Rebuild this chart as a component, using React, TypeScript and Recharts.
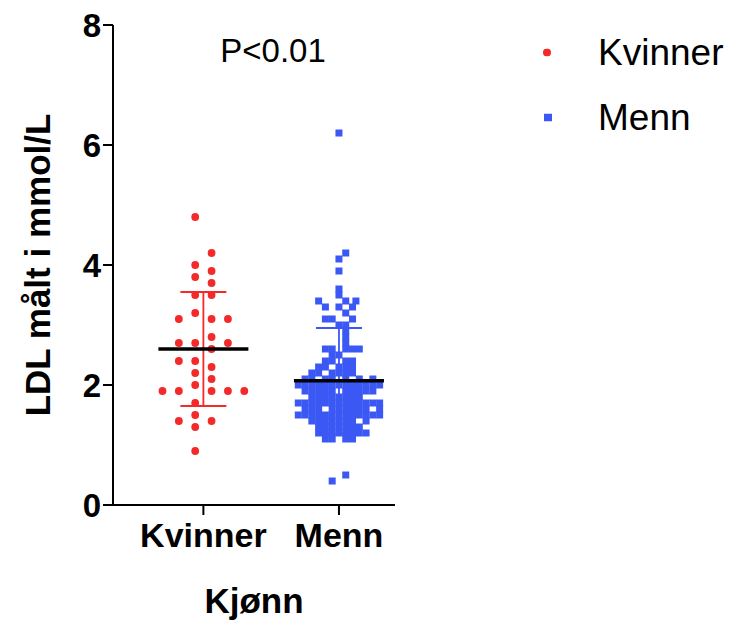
import { ScatterChart, Scatter, XAxis, YAxis, ErrorBar } from "recharts";

const FONT = '"Liberation Sans", Arial, Helvetica, sans-serif';
const RED = "#f42a2a";
const BLUE = "#3b58f5";

// categories on a numeric x axis so points can be spread sideways
const categories = ["Kvinner", "Menn"];
const categoryX = [1, 2.5];
const slotWidth = [0.181, 0.075];
const yTicks = [0, 2, 4, 6, 8];

// [value, column slots]
const kvinnerRows: [number, number[]][] = [
  [4.8, [-0.5]],
  [4.2, [0.5]],
  [4.0, [-0.5]],
  [3.9, [0.5]],
  [3.8, [-0.5]],
  [3.7, [0.5]],
  [3.5, [-0.5, 0.5]],
  [3.2, [-0.5]],
  [3.1, [-1.5, 0.5, 1.5]],
  [2.8, [0.5]],
  [2.7, [-1.5, -0.5, 1.5]],
  [2.6, [0.5]],
  [2.4, [-1.5, -0.5]],
  [2.3, [0.5]],
  [2.2, [-0.5]],
  [2.1, [0.5]],
  [2.0, [-0.5]],
  [1.9, [-2.5, -1.5, 0.5, 1.5, 2.5]],
  [1.7, [-0.5]],
  [1.5, [-0.5]],
  [1.4, [-1.5, 0.5]],
  [1.3, [-0.5]],
  [0.9, [-0.5]],
];

const mennRows: [number, number[]][] = [
  [6.2, [0]],
  [4.2, [1]],
  [4.1, [0]],
  [3.9, [0]],
  [3.6, [0]],
  [3.5, [0]],
  [3.4, [-3, 1, 2.5]],
  [3.3, [-2, 0, 2]],
  [3.2, [1]],
  [3.1, [-2, -1, 2]],
  [3.0, [0, 1]],
  [2.9, [1]],
  [2.8, [1]],
  [2.7, [1]],
  [2.6, [-2, -1, 1, 2, 3]],
  [2.5, [-1, 0]],
  [2.4, [-2, -1, 1, 2]],
  [2.3, [-3, -2, 0, 1, 2]],
  [2.2, [-4, -3, -1, 0, 1, 2]],
  [2.1, [-5, -4, -2, -1, 1, 3, 5]],
  [2.0, [-6, -5, -4, -3, -2, -1, 0, 1, 2, 3, 4, 5, 6]],
  [1.9, [-5, -4, -3, -2, -1, 1, 2, 3, 4, 5]],
  [1.8, [-4, -3, -2, -1, 0, 1, 2, 3]],
  [1.7, [-6, -5, -4, -3, -2, -1, 0, 1, 2, 3, 4, 5, 6]],
  [1.6, [-5, -4, -3, -1, 0, 1, 2, 3, 4, 6]],
  [1.5, [-6, -5, -4, -3, -2, -1, 0, 1, 2, 3, 4, 5, 6]],
  [1.4, [-4, -3, -2, -1, 0, 1, 2, 4]],
  [1.3, [-3, -2, -1, 0, 1, 2, 3]],
  [1.2, [-3, -2, -1, 0, 1, 2, 3, 4]],
  [1.1, [-2, -1, 1, 2]],
  [0.5, [1]],
  [0.4, [-1]],
];

const groupMean = [2.6, 2.07];
const groupSD = [0.95, 0.88];

const toPoints = (rows: [number, number[]][], g: number) =>
  rows.flatMap(([v, slots]) => slots.map((s) => ({ x: categoryX[g] + s * slotWidth[g], y: v })));

const kvinnerData = toPoints(kvinnerRows, 0);
const mennData = toPoints(mennRows, 1);
const kvinnerMean = [{ x: categoryX[0], y: groupMean[0], sd: groupSD[0] }];
const mennMean = [{ x: categoryX[1], y: groupMean[1], sd: groupSD[1] }];

const Dot = (p: any) => <circle cx={p.cx} cy={p.cy} r={3.9} fill={RED} />;
const Square = (p: any) => <rect x={p.cx - 3.5} y={p.cy - 3.5} width={7} height={7} fill={BLUE} />;
const MeanBar = (p: any) => (
  <line x1={p.cx - 45} x2={p.cx + 45} y1={p.cy} y2={p.cy} stroke="#000" strokeWidth={3.5} />
);

const tickStyle = { fill: "#000", fontSize: 33, fontWeight: "bold", fontFamily: FONT };

const YLabel = ({ viewBox }: any) => {
  const x = viewBox.x + 29;
  const y = viewBox.y + viewBox.height / 2;
  return (
    <text
      x={x}
      y={y}
      transform={`rotate(-90, ${x}, ${y})`}
      textAnchor="middle"
      dy="0.36em"
      fontSize={35}
      fontWeight="bold"
      fontFamily={FONT}
      fill="#000"
    >
      LDL målt i mmol/L
    </text>
  );
};

export default function App() {
  return (
    <div style={{ position: "relative", width: 725, height: 625, fontFamily: FONT }}>
      <ScatterChart width={725} height={625} margin={{ top: 17, right: 338, left: 0, bottom: 8 }}>
        <XAxis
          type="number"
          dataKey="x"
          domain={[0, 3.12]}
          ticks={categoryX}
          interval={0}
          tickFormatter={(v: number) => categories[categoryX.indexOf(v)]}
          axisLine={{ stroke: "#000", strokeWidth: 2 }}
          tickLine={{ stroke: "#000", strokeWidth: 2 }}
          tickSize={10}
          tickMargin={8}
          tick={{ ...tickStyle, fontSize: 34 }}
          height={120}
          label={{
            value: "Kjønn",
            position: "insideBottom",
            offset: 12,
            style: { fill: "#000", fontSize: 35, fontWeight: "bold", fontFamily: FONT },
          }}
        />
        <YAxis
          type="number"
          dataKey="y"
          domain={[0, 8]}
          ticks={yTicks}
          interval={0}
          width={105}
          axisLine={{ stroke: "#000", strokeWidth: 2 }}
          tickLine={{ stroke: "#000", strokeWidth: 2 }}
          tickSize={10}
          tickMargin={2}
          tick={tickStyle}
          label={<YLabel />}
        />
        <Scatter data={kvinnerData} shape={Dot} isAnimationActive={false} />
        <Scatter data={mennData} shape={Square} isAnimationActive={false} />
        <Scatter data={kvinnerMean} shape={MeanBar} isAnimationActive={false}>
          <ErrorBar dataKey="sd" direction="y" width={23} stroke={RED} strokeWidth={1.8} />
        </Scatter>
        <Scatter data={mennMean} shape={MeanBar} isAnimationActive={false}>
          <ErrorBar dataKey="sd" direction="y" width={23} stroke={BLUE} strokeWidth={1.8} />
        </Scatter>
      </ScatterChart>

      <div
        style={{
          position: "absolute",
          left: 265,
          top: 42,
          transform: "translate(-50%, -50%)",
          fontSize: 33,
          lineHeight: 1,
          whiteSpace: "nowrap",
        }}
      >
        P&lt;0.01
      </div>

      <div style={{ position: "absolute", left: 535, top: 44, transform: "translateY(-50%)", display: "flex", alignItems: "center" }}>
        <svg width={8} height={8}>
          <circle cx={4} cy={4} r={4} fill={RED} />
        </svg>
        <span style={{ marginLeft: 47, fontSize: 37, lineHeight: 1, whiteSpace: "nowrap" }}>{categories[0]}</span>
      </div>
      <div style={{ position: "absolute", left: 536, top: 109, transform: "translateY(-50%)", display: "flex", alignItems: "center" }}>
        <svg width={8} height={8}>
          <rect x={0} y={0} width={8} height={8} fill={BLUE} />
        </svg>
        <span style={{ marginLeft: 46, fontSize: 37, lineHeight: 1, whiteSpace: "nowrap" }}>{categories[1]}</span>
      </div>
    </div>
  );
}
